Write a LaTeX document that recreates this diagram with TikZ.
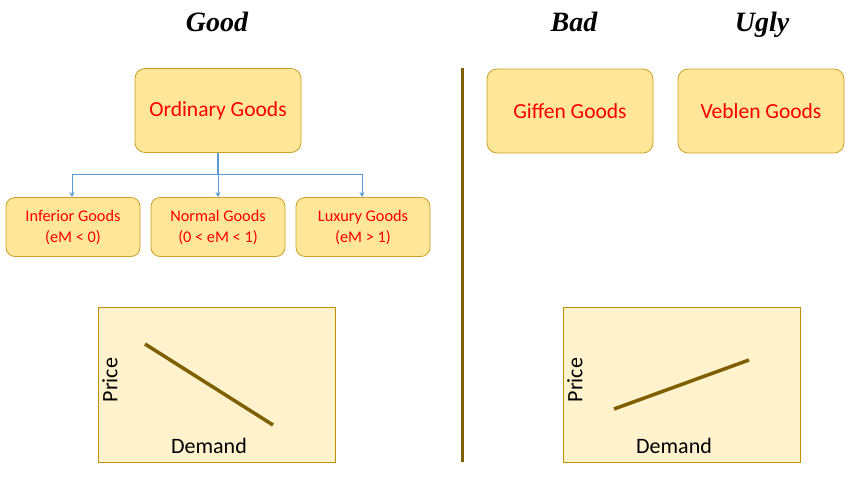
\documentclass[tikz,border=0pt]{standalone}
\usepackage{fontspec}
\setmainfont{Carlito}
\newfontfamily\headfont{Liberation Serif}
\usetikzlibrary{arrows.meta}
\definecolor{boxfill}{HTML}{FFE699}
\definecolor{boxdraw}{HTML}{C9A227}
\definecolor{chartfill}{HTML}{FFF2CC}
\definecolor{chartdraw}{HTML}{BF9000}
\definecolor{brownline}{HTML}{7F6000}
\definecolor{conn}{HTML}{5B9BD5}
\definecolor{txtred}{HTML}{FF0000}
\tikzset{
  x=1pt, y=-1pt,
  head/.style={font=\headfont\bfseries\itshape\fontsize{28}{30}\selectfont, text=black, anchor=base},
  bigbox/.style={draw=boxdraw, fill=boxfill, rounded corners=10pt, line width=0.8pt,
     minimum width=166pt, minimum height=84pt, text=txtred, font=\fontsize{21.5}{24}\selectfont},
  smallbox/.style={draw=boxdraw, fill=boxfill, rounded corners=9pt, line width=0.8pt,
     minimum width=134pt, minimum height=59pt, text=txtred, align=center,
     font=\fontsize{16.3}{21}\selectfont},
  chart/.style={draw=chartdraw, fill=chartfill, line width=0.7pt},
  curve/.style={draw=brownline, line width=3.5pt},
  axis/.style={font=\fontsize{22}{24}\selectfont, text=black},
  connline/.style={draw=conn, line width=0.8pt},
  connarrow/.style={draw=conn, line width=0.8pt, -{Stealth[length=5pt,width=5pt]}},
}
\begin{document}
\begin{tikzpicture}
\useasboundingbox (0,0) rectangle (857,479);
% headings
\node[head] (hgood) at (217,31) {Good};
\node[head] (hbad) at (574,31) {Bad};
\node[head] (hugly) at (762,31) {Ugly};
% divider
\coordinate (dtop) at (462,68);
\coordinate (dbot) at (462,462);
\draw[draw=brownline, line width=3pt] (dtop) -- (dbot);
% top boxes
\node[bigbox] (ord) at (218,110.5) {Ordinary Goods};
\node[bigbox] (giffen) at (570,111) {Giffen Goods};
\node[bigbox] (veblen) at (761,111) {Veblen Goods};
% small boxes
\node[smallbox] (inf) at (73,227) {Inferior Goods\\(eM < 0)};
\node[smallbox] (nor) at (218,227) {Normal Goods\\(0 < eM < 1)};
\node[smallbox] (lux) at (363,227) {Luxury Goods\\(eM > 1)};
% connectors
\coordinate (jn) at (218,174);
\coordinate (jl) at (72,174);
\coordinate (jr) at (362,174);
\draw[connline, line width=1.3pt] (ord.south) -- (jn);
\draw[connline] (jl) -- (jr);
\draw[connarrow] (jl) -- (jl |- inf.north);
\draw[connarrow] (jn) -- (jn |- nor.north);
\draw[connarrow] (jr) -- (jr |- lux.north);
% left chart
\node[chart, minimum width=237pt, minimum height=155pt, inner sep=0pt] (chL) at (216.5,384.5) {};
\coordinate (l1) at (145,344);
\coordinate (l2) at (273,425);
\draw[curve] (l1) -- (l2);
\node[axis, rotate=90] (pL) at (110,380) {Price};
\node[axis] (dL) at (209,446) {Demand};
% right chart
\node[chart, minimum width=237pt, minimum height=155pt, inner sep=0pt] (chR) at (681.5,384.5) {};
\coordinate (r1) at (614,409);
\coordinate (r2) at (749,360);
\draw[curve] (r1) -- (r2);
\node[axis, rotate=90] (pR) at (575,380) {Price};
\node[axis] (dR) at (674,446) {Demand};
\end{tikzpicture}
\end{document}
